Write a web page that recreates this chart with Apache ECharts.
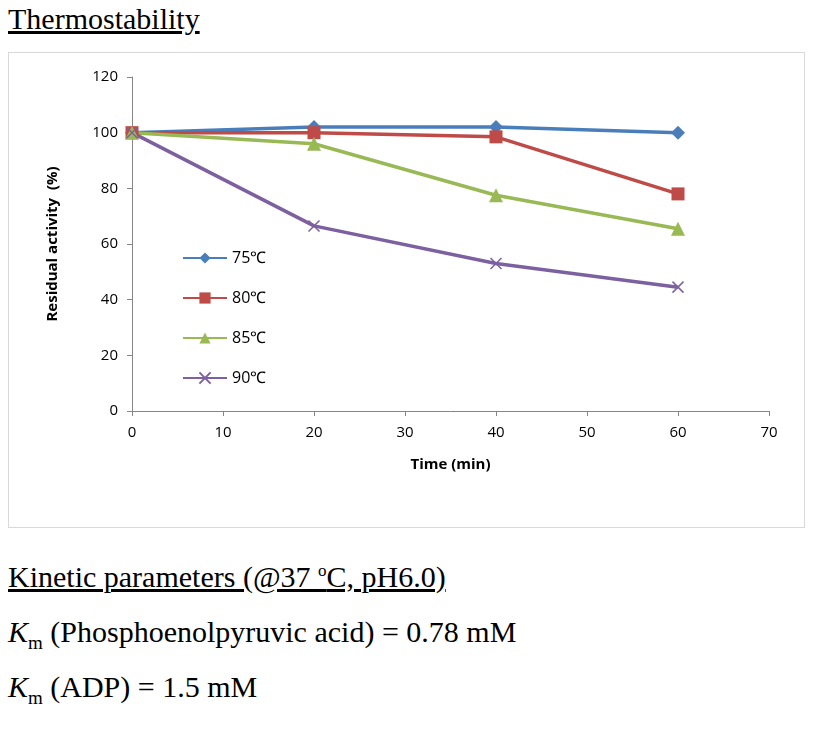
<html><head><meta charset="utf-8">
<script src="https://cdn.jsdelivr.net/npm/echarts@6/dist/echarts.min.js"></script>
<style>
body{margin:0;width:815px;height:731px;background:#fff;position:relative;font-family:"Liberation Serif","Times New Roman",serif;}
.t{position:absolute;left:8px;font-size:30px;color:#000;white-space:nowrap}
#c{position:absolute;left:8px;top:52px;width:797px;height:476px;border:1px solid #d9d9d9;box-sizing:border-box}
</style></head><body>
<div class="t" style="top:2px;text-decoration:underline">Thermostability</div>
<div id="c"></div>
<div class="t" style="top:560px;text-decoration:underline">Kinetic parameters (@37 <sup style="font-size:17px">o</sup>C, pH6.0)</div>
<div class="t" style="top:615px"><i>K</i><sub style="font-size:19px">m</sub> (Phosphoenolpyruvic acid) = 0.78 mM</div>
<div class="t" style="top:670px"><i>K</i><sub style="font-size:19px">m</sub> (ADP) = 1.5 mM</div>
<script>
const times=[0,20,40,60];
const names=['75℃','80℃','85℃','90℃'];
const s75=[100,102,102,100];
const s80=[100,100,98.5,78];
const s85=[100,96,77.5,65.5];
const s90=[100,66.5,53,44.5];
const colors=['#4a7ebb','#be4b48','#98b954','#7d60a0'];
const symbols=['diamond','rect','triangle','path://M0,0L10,10M10,0L0,10'];
const vals=[s75,s80,s85,s90];
const ch=echarts.init(document.getElementById('c'));
const ax={color:'#000',fontFamily:'Open Sans',fontSize:15};
ch.setOption({
 animation:false,
 grid:{left:123,right:35,top:24,bottom:116},
 legend:{left:168,top:192,orient:'vertical',itemGap:24,itemWidth:44,itemHeight:14,
  textStyle:{fontFamily:'Open Sans',fontSize:16,color:'#000'},data:names},
 xAxis:{type:'value',min:0,max:70,interval:10,name:'Time (min)',nameLocation:'middle',nameGap:46,
  nameTextStyle:{fontFamily:'Open Sans',fontWeight:'bold',fontSize:15,color:'#000'},
  axisLine:{lineStyle:{color:'#868686'}},axisTick:{show:true,lineStyle:{color:'#868686'}},
  splitLine:{show:false},axisLabel:Object.assign({margin:14},ax)},
 yAxis:{type:'value',min:0,max:120,interval:20,name:'Residual activity  (%)',nameLocation:'middle',nameGap:72,
  nameTextStyle:{fontFamily:'Open Sans',fontWeight:'bold',fontSize:15,color:'#000'},
  axisLine:{show:true,lineStyle:{color:'#868686'}},axisTick:{show:true,lineStyle:{color:'#868686'}},
  splitLine:{show:false},axisLabel:Object.assign({margin:14},ax)},
 series:names.map((n,i)=>({name:n,type:'line',data:times.map((t,j)=>[t,vals[i][j]]),
  symbol:symbols[i],symbolSize:i==3?11:(i==1?13:14),showAllSymbol:true,
  lineStyle:{width:3.5,color:colors[i]},
  itemStyle:{color:colors[i],borderColor:colors[i],borderWidth:i==3?1.5:0}}))
});
</script></body></html>
